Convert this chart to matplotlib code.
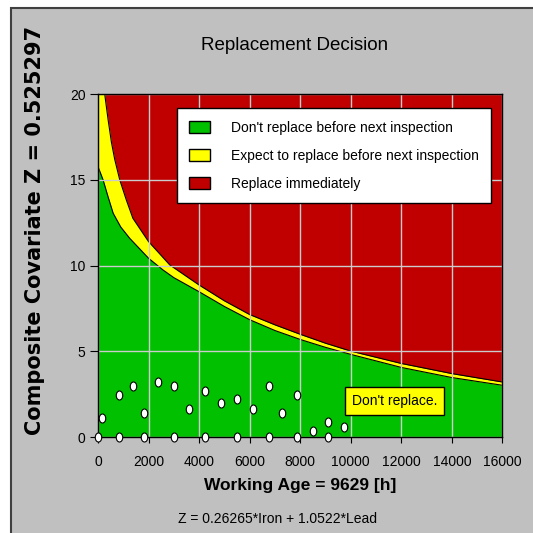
import matplotlib
matplotlib.use('Agg')
import matplotlib.pyplot as plt
from matplotlib.patches import Patch, Rectangle
from matplotlib.path import Path
from matplotlib.transforms import Affine2D

# boundary between "don't replace" and "expect to replace"
green_x = [0, 200, 400, 600, 900, 1250, 2000, 2570, 3000, 4000, 5000, 6000, 7000, 8000, 9000, 10000, 12000, 14000, 16000]
green_z = [15.77, 15.0, 14.0, 13.05, 12.25, 11.6, 10.43, 9.75, 9.3, 8.48, 7.62, 6.85, 6.22, 5.7, 5.24, 4.83, 4.07, 3.48, 3.03]

# boundary between "expect to replace" and "replace immediately"
red_x = [0, 265, 400, 530, 660, 860, 1120, 1380, 2000, 2840, 4000, 5000, 6000, 7000, 8000, 9000, 10000, 12000, 14000, 16000]
red_z = [20, 20, 18.5, 17.2, 16.2, 15.0, 13.83, 12.76, 11.4, 10.04, 8.87, 7.95, 7.15, 6.55, 6.0, 5.48, 5.02, 4.3, 3.71, 3.22]

# inspection points (working age, composite covariate)
pts_age = [0, 830, 1800, 3000, 4230, 5510, 6760, 7870, 9110,
           140, 830, 1380, 2360, 3000, 1800, 3600, 4230, 4870, 5510, 6140, 6760, 7270, 7870, 8510, 9110, 9740]
pts_z = [0, 0, 0, 0, 0, 0, 0, 0, 0,
         1.1, 2.47, 2.99, 3.22, 2.99, 1.4, 1.63, 2.72, 1.98, 2.22, 1.63, 2.99, 1.4, 2.48, 0.38, 0.89, 0.62]

legend_labels = ["Don't replace before next inspection",
                 "Expect to replace before next inspection",
                 "Replace immediately"]
colors = ['#00c000', '#ffff00', '#c00000']

plt.rcParams['font.family'] = ['Liberation Sans', 'DejaVu Sans']

fig = plt.figure(figsize=(5.33, 5.33), dpi=100)
fig.patch.set_facecolor('white')
fig.patches.append(Rectangle((11 / 533, -0.01), 1.0, 1 - 8 / 533 + 0.01, transform=fig.transFigure,
                             facecolor='#c0c0c0', edgecolor='#404040', linewidth=1.5, zorder=-1))

ax = fig.add_axes([98 / 533, 1 - 437.3 / 533, 404.5 / 533, 343.3 / 533])
ax.set_facecolor(colors[2])
ax.fill_between(red_x, 0, red_z, color=colors[1], zorder=1, linewidth=0)
ax.fill_between(green_x, 0, green_z, color=colors[0], zorder=1.5, linewidth=0)
ax.plot(red_x, red_z, color='black', lw=0.8, zorder=2)
ax.plot(green_x, green_z, color='black', lw=0.8, zorder=2)

ax.set_xlim(0, 16000)
ax.set_ylim(0, 20)
ax.set_xticks(range(0, 16001, 2000))
ax.set_yticks([0, 5, 10, 15, 20])
ax.grid(True, color='#cccccc', linewidth=1, zorder=2.5)
ax.set_axisbelow(False)
ax.tick_params(axis='x', direction='out', length=4, width=0.8, labelsize=10, pad=8.5)
ax.tick_params(axis='y', direction='out', length=6, width=0.8, labelsize=10, pad=3)
for sp in ax.spines.values():
    sp.set_color('black')
    sp.set_linewidth(1)
    sp.set_zorder(4)

oval = Path.unit_circle().transformed(Affine2D().scale(0.72, 1.0))
ax.plot(pts_age, pts_z, linestyle='none', marker=oval, markersize=6.5,
        markerfacecolor='white', markeredgecolor='black', markeredgewidth=0.8,
        zorder=5, clip_on=False)

ax.text(11730, 2.09, "Don't replace.", fontsize=10, ha='center', va='center', zorder=6,
        bbox=dict(boxstyle='square,pad=0.5', facecolor='#ffff00', edgecolor='black', linewidth=1))

handles = [Patch(facecolor=c, edgecolor='black', linewidth=1) for c in colors]
leg = ax.legend(handles, legend_labels, loc='upper left', bbox_to_anchor=(0.195, 0.959),
                fontsize=10, frameon=True, fancybox=False, framealpha=1, edgecolor='black',
                borderpad=0.9, labelspacing=1.02, handlelength=1.5, handleheight=0.95,
                handletextpad=1.5, borderaxespad=0)
leg.get_frame().set_linewidth(1)
leg.set_zorder(7)

fig.text(295 / 533, 1 - 46 / 533, 'Replacement Decision', fontsize=13.5, ha='center', va='center')
ax.set_xlabel('Working Age = 9629 [h]', fontsize=12.5, fontweight='bold')
ax.xaxis.label.set_va('center')
ax.xaxis.set_label_coords(0.4987, -0.139)
fig.text(35 / 533, 1 - 230.5 / 533, 'Composite Covariate Z = 0.525297', fontsize=15,
         fontweight='bold', rotation=90, ha='center', va='center', family='DejaVu Sans')
fig.text(277 / 533, 1 - 519 / 533, 'Z = 0.26265*Iron + 1.0522*Lead', fontsize=10,
         ha='center', va='center')

fig.savefig('out.png', dpi=100)
